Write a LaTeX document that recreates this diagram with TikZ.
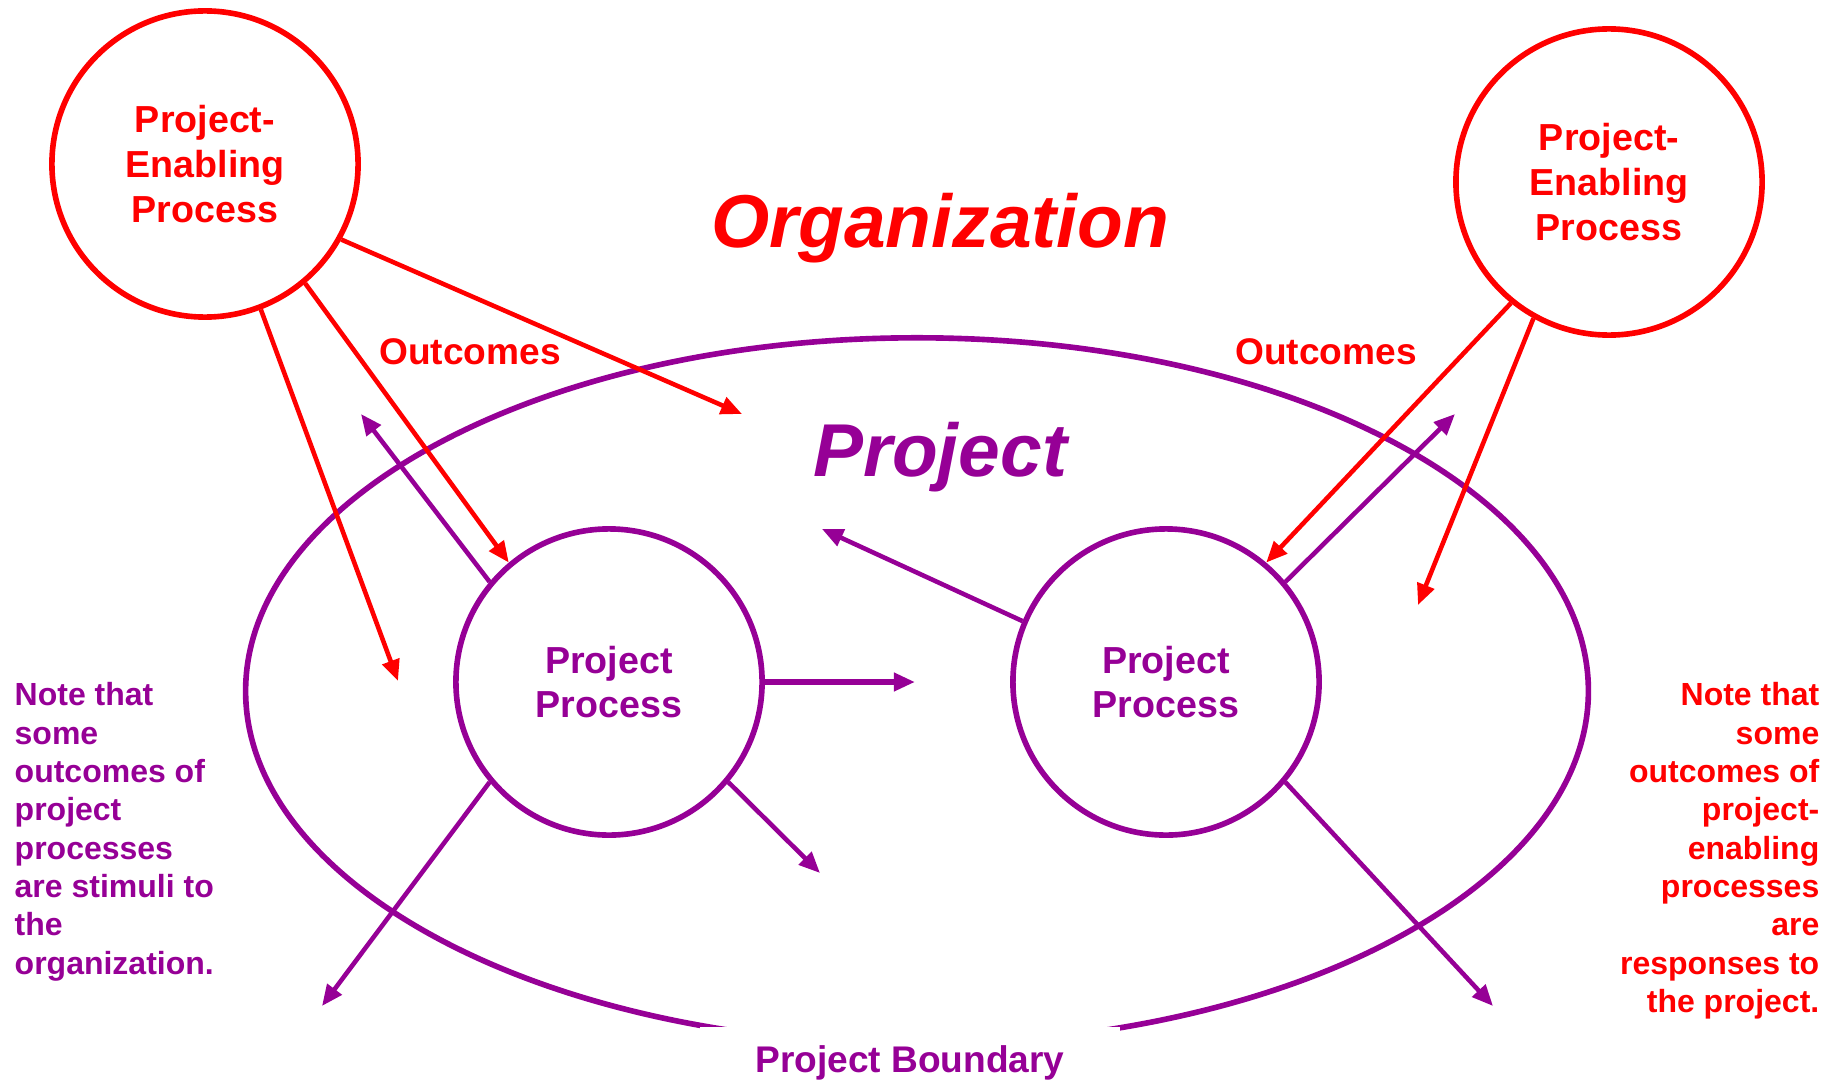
\documentclass[tikz,border=0pt]{standalone}
\usepackage{fontspec}
\setmainfont{Liberation Sans}
\usepackage{xcolor}
\definecolor{orgred}{RGB}{255,0,0}
\definecolor{projpurple}{RGB}{150,0,150}
\usepackage{tikz}
\usetikzlibrary{positioning,shapes.geometric,arrows.meta}
\tikzset{
  pepnode/.style={circle,draw=orgred,line width=1.6pt,minimum size=3.06cm,
    inner sep=0pt,align=center,text=orgred,
    font=\bfseries\fontsize{10.7}{12.8}\selectfont},
  procnode/.style={circle,draw=projpurple,line width=1.6pt,minimum size=3.06cm,
    inner sep=0pt,align=center,text=projpurple,
    font=\bfseries\fontsize{10.7}{12.6}\selectfont},
  bndry/.style={ellipse,draw=projpurple,line width=1.6pt,
    minimum width=13.42cm,minimum height=7.06cm,inner sep=0pt},
  notetext/.style={inner sep=0pt,font=\bfseries\fontsize{9.1}{10.9}\selectfont},
  outlbl/.style={text=orgred,inner sep=0pt,font=\bfseries\fontsize{10.55}{12}\selectfont},
  bigtitle/.style={inner sep=0pt,font=\bfseries\itshape\fontsize{21.3}{25}\selectfont},
  redarr/.style={-{Triangle[length=6pt,width=5pt]},draw=orgred,line width=1.3pt},
  purarr/.style={-{Triangle[length=6pt,width=5pt]},draw=projpurple,line width=1.3pt},
}

\begin{document}
\begin{tikzpicture}[x=0.01cm,y=-0.01cm]
  \useasboundingbox (0,0) rectangle (1837,1082);
  \node[bndry] (proj) at (917,691) {};
  \node[fill=white,text=projpurple,minimum width=4.2cm,minimum height=0.72cm,
    font=\bfseries\fontsize{10.55}{12}\selectfont] (bnd) at (910,1063) {Project Boundary};

  \node[pepnode] (pepL) at (205,164) {Project-\\Enabling\\Process};
  \node[pepnode] (pepR) at (1609,182) {Project-\\Enabling\\Process};
  \node[procnode] (ppL) at (609,682) {Project\\Process};
  \node[procnode] (ppR) at (1166,682) {Project\\Process};

  \node[bigtitle,text=orgred,anchor=base] (org) at (940,247) {Organization};
  \node[bigtitle,text=projpurple,anchor=base] (projtitle) at (940,476) {Project};
  \node[outlbl,anchor=base] (outL) at (470,364) {Outcomes};
  \node[outlbl,anchor=base] (outR) at (1326,364) {Outcomes};

  \node[notetext,text=projpurple,align=left,anchor=north west] (noteL) at (14,682)
    {Note that\\some\\outcomes of\\project\\processes\\are stimuli to\\the\\organization.};
  \node[notetext,text=orgred,align=right,anchor=north east] (noteR) at (1820,682)
    {Note that\\some\\outcomes of\\project-\\enabling\\processes\\are\\responses to\\the project.};

  \coordinate (t1) at (742,414);
  \coordinate (t3) at (398,681);
  \coordinate (t4) at (361,414);
  \coordinate (t5) at (915,682);
  \coordinate (t6) at (820,873);
  \coordinate (t7) at (322,1006);
  \coordinate (t8) at (822,529);
  \coordinate (t9) at (1455,414);
  \coordinate (t10) at (1493,1006);
  \coordinate (t12) at (1418,605);

  \draw[redarr] (pepL.-29) -- (t1);
  \draw[redarr] (pepL.-50) -- (ppL.130);
  \draw[redarr] (pepL.-69) -- (t3);
  \draw[redarr] (pepR.-129) -- (ppR.50);
  \draw[redarr] (pepR.-119) -- (t12);

  \draw[purarr] (ppL.140) -- (t4);
  \draw[purarr,line width=1.5pt] (ppL.0) -- (t5);
  \draw[purarr] (ppL.-40) -- (t6);
  \draw[purarr] (ppL.-140) -- (t7);
  \draw[purarr] (ppR.157) -- (t8);
  \draw[purarr] (ppR.40) -- (t9);
  \draw[purarr] (ppR.-40) -- (t10);
\end{tikzpicture}
\end{document}
